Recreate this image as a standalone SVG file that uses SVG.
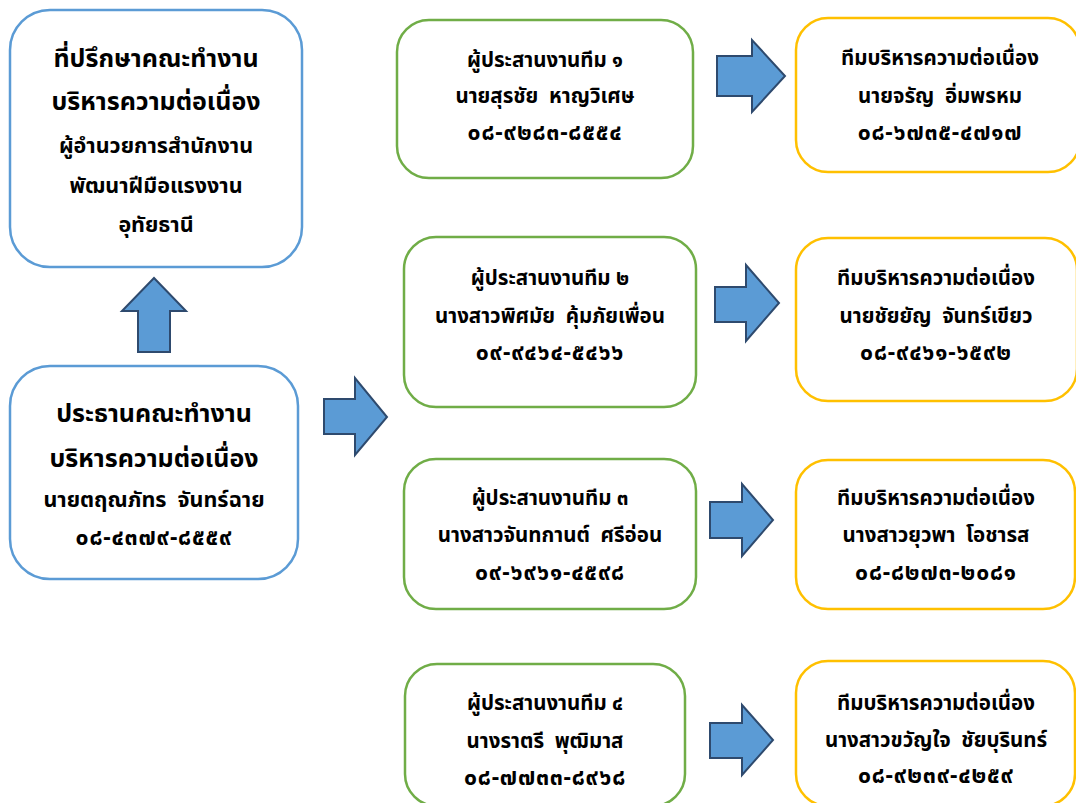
<svg xmlns="http://www.w3.org/2000/svg" width="1076" height="803" viewBox="0 0 1076 803">
<style>
text{font-family:"Noto Sans Thai","Noto Sans","DejaVu Sans",sans-serif;font-weight:bold;fill:#000;text-anchor:middle;white-space:pre}
.big{font-size:25px}
.mid{font-size:21.5px}
.sm{font-size:20.5px}
.num{font-size:23px;letter-spacing:0.8px}
.blue{fill:#fff;stroke:#5B9BD5;stroke-width:2.5}
.green{fill:#fff;stroke:#70AD47;stroke-width:2.5}
.yellow{fill:#fff;stroke:#FFC000;stroke-width:2.5}
.arr{fill:#5B9BD5;stroke:#2E4A6E;stroke-width:2;stroke-linejoin:miter}
</style>
<rect width="1076" height="803" fill="#fff"/>
<g id="advisor">
<rect class="blue" x="10" y="10" width="292" height="257" rx="40"/>
<text class="big" x="156" y="67">ที่ปรึกษาคณะทำงาน</text>
<text class="big" x="156" y="110">บริหารความต่อเนื่อง</text>
<text class="mid" x="156" y="153">ผู้อำนวยการสำนักงาน</text>
<text class="mid" x="156" y="193">พัฒนาฝีมือแรงงาน</text>
<text class="mid" x="156" y="232">อุทัยธานี</text>
</g>
<g id="chairman">
<rect class="blue" x="10" y="366" width="288" height="213" rx="40"/>
<text class="big" x="154" y="422">ประธานคณะทำงาน</text>
<text class="big" x="154" y="467">บริหารความต่อเนื่อง</text>
<text class="mid" x="154" y="507">นายตฤณภัทร  จันทร์ฉาย</text>
<text class="num" x="154" y="545">๐๘-๔๓๗๙-๘๕๕๙</text>
</g>
<g id="coord1">
<rect class="green" x="397" y="20" width="296" height="158" rx="32"/>
<text class="sm" x="545" y="67">ผู้ประสานงานทีม ๑</text>
<text class="sm" x="545" y="103">นายสุรชัย  หาญวิเศษ</text>
<text class="num" x="545" y="140">๐๘-๙๒๘๓-๘๕๕๔</text>
</g>
<g id="coord2">
<rect class="green" x="404" y="237" width="292" height="170" rx="32"/>
<text class="sm" x="550" y="285">ผู้ประสานงานทีม ๒</text>
<text class="sm" x="550" y="323">นางสาวพิศมัย  คุ้มภัยเพื่อน</text>
<text class="num" x="550" y="360">๐๙-๙๔๖๔-๕๔๖๖</text>
</g>
<g id="coord3">
<rect class="green" x="404" y="459" width="292" height="150" rx="32"/>
<text class="sm" x="550" y="505">ผู้ประสานงานทีม ๓</text>
<text class="sm" x="550" y="542">นางสาวจันทกานต์  ศรีอ่อน</text>
<text class="num" x="550" y="580">๐๙-๖๙๖๑-๔๕๙๘</text>
</g>
<g id="coord4">
<rect class="green" x="405" y="664" width="280" height="142" rx="32"/>
<text class="sm" x="545" y="710">ผู้ประสานงานทีม ๔</text>
<text class="sm" x="545" y="748">นางราตรี  พุฒิมาส</text>
<text class="num" x="545" y="785">๐๘-๗๗๓๓-๘๙๖๘</text>
</g>
<g id="team1">
<rect class="yellow" x="796" y="18" width="284" height="154" rx="32"/>
<text class="sm" x="940" y="65">ทีมบริหารความต่อเนื่อง</text>
<text class="sm" x="940" y="103">นายจรัญ  อิ่มพรหม</text>
<text class="num" x="940" y="140">๐๘-๖๗๓๕-๔๗๑๗</text>
</g>
<g id="team2">
<rect class="yellow" x="796" y="238" width="281" height="163" rx="32"/>
<text class="sm" x="936" y="285">ทีมบริหารความต่อเนื่อง</text>
<text class="sm" x="936" y="323">นายชัยยัญ  จันทร์เขียว</text>
<text class="num" x="936" y="360">๐๘-๙๔๖๑-๖๕๙๒</text>
</g>
<g id="team3">
<rect class="yellow" x="796" y="460" width="279" height="149" rx="32"/>
<text class="sm" x="936" y="505">ทีมบริหารความต่อเนื่อง</text>
<text class="sm" x="936" y="542">นางสาวยุวพา  โอชารส</text>
<text class="num" x="936" y="580">๐๘-๘๒๗๓-๒๐๘๑</text>
</g>
<g id="team4">
<rect class="yellow" x="796" y="661" width="279" height="145" rx="32"/>
<text class="sm" x="936" y="710">ทีมบริหารความต่อเนื่อง</text>
<text class="sm" x="936" y="747">นางสาวขวัญใจ  ชัยบุรินทร์</text>
<text class="num" x="936" y="783">๐๘-๙๒๓๙-๔๒๕๙</text>
</g>
<g id="connectors">
<polygon class="arr" points="138,352 138,311 122,311 154,278 186,311 170,311 170,352"/>
<polygon class="arr" points="324,399 355,399 355,378 387,417 355,455 355,434 324,434"/>
<polygon class="arr" points="717,56 752,56 752,40 785,76 752,112 752,96 717,96"/>
<polygon class="arr" points="715,287 746,287 746,265 779,303 746,341 746,322 715,322"/>
<polygon class="arr" points="710,502 742,502 742,484 773,520 742,556 742,538 710,538"/>
<polygon class="arr" points="710,723 742,723 742,705 773,740 742,775 742,758 710,758"/>
</g>
</svg>
